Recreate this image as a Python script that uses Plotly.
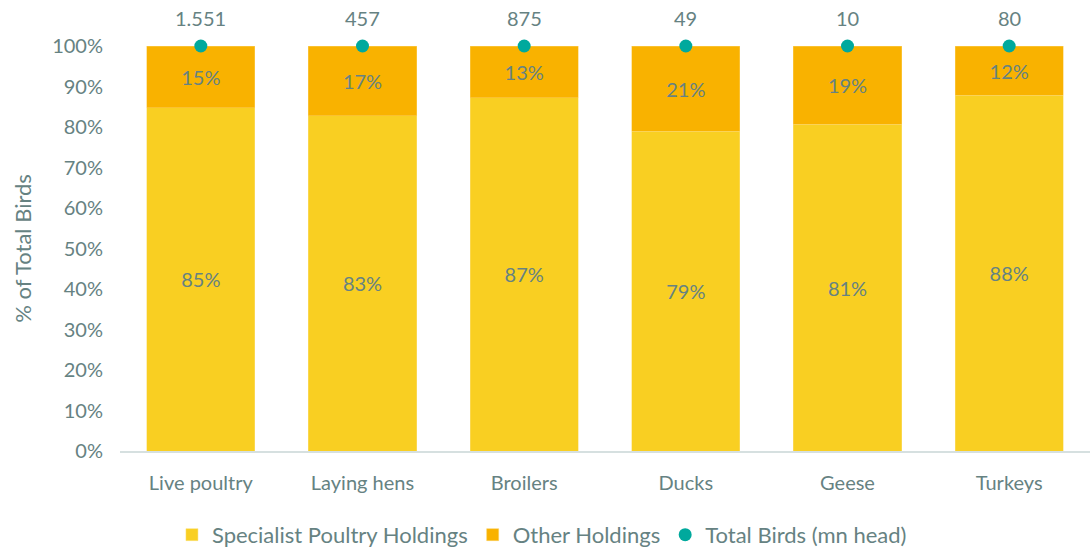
import plotly.graph_objects as go

categories = ["Live poultry", "Laying hens", "Broilers", "Ducks", "Geese", "Turkeys"]
specialist = [84.7, 82.8, 87.2, 79.0, 80.7, 87.9]
other = [15.3, 17.2, 12.8, 21.0, 19.3, 12.1]
specialist_labels = ["85%", "83%", "87%", "79%", "81%", "88%"]
other_labels = ["15%", "17%", "13%", "21%", "19%", "12%"]
total_pct = [100, 100, 100, 100, 100, 100]
total_labels = ["1.551", "457", "875", "49", "10", "80"]

txt = "#668282"
font = "Lato"

fig = go.Figure()
fig.add_trace(go.Bar(
    x=categories, y=specialist, name="Specialist Poultry Holdings",
    marker=dict(color="#F9CF22", line=dict(color="#FBE07A", width=0.5)),
    text=specialist_labels, textposition="inside", insidetextanchor="middle",
    textfont=dict(color=txt, size=20, family=font),
))
fig.add_trace(go.Bar(
    x=categories, y=other, name="Other Holdings",
    marker=dict(color="#F9B200", line=dict(color="#FBD060", width=0.5)),
    text=other_labels, textposition="inside", insidetextanchor="middle",
    textfont=dict(color=txt, size=20, family=font),
))
fig.add_trace(go.Scatter(
    x=categories, y=total_pct, name="Total Birds (mn head)",
    mode="markers", marker=dict(color="#00A99D", size=13),
    cliponaxis=False,
))
for c, v, t in zip(categories, total_pct, total_labels):
    fig.add_annotation(x=c, y=v, text=t, showarrow=False, yshift=28,
                       font=dict(color=txt, size=20, family=font))

fig.update_layout(
    barmode="stack", bargap=0.33,
    width=1090, height=548,
    margin=dict(l=120, r=0, t=46, b=97, autoexpand=False),
    paper_bgcolor="white", plot_bgcolor="white",
    font=dict(family=font, color=txt, size=20),
    uniformtext=dict(mode="show", minsize=10),
    legend=dict(orientation="h", x=0.435, xanchor="center", y=-0.207, yanchor="middle",
                font=dict(size=22, color=txt, family=font),
                traceorder="normal"),
    yaxis=dict(range=[0, 100], tickvals=list(range(0, 101, 10)),
               ticktext=[f"{v}%" for v in range(0, 101, 10)],
               showgrid=False, zeroline=False, ticks="", ticklen=0,
               ticklabelstandoff=16,
               tickfont=dict(size=20, color=txt),
               title=dict(text="% of Total Birds", font=dict(size=22, color=txt), standoff=14)),
    xaxis=dict(showline=True, linecolor="#D6E0E0", linewidth=1.5,
               ticklabelstandoff=13,
               tickfont=dict(size=20, color=txt), ticks=""),
)

fig.write_html("out.html")
